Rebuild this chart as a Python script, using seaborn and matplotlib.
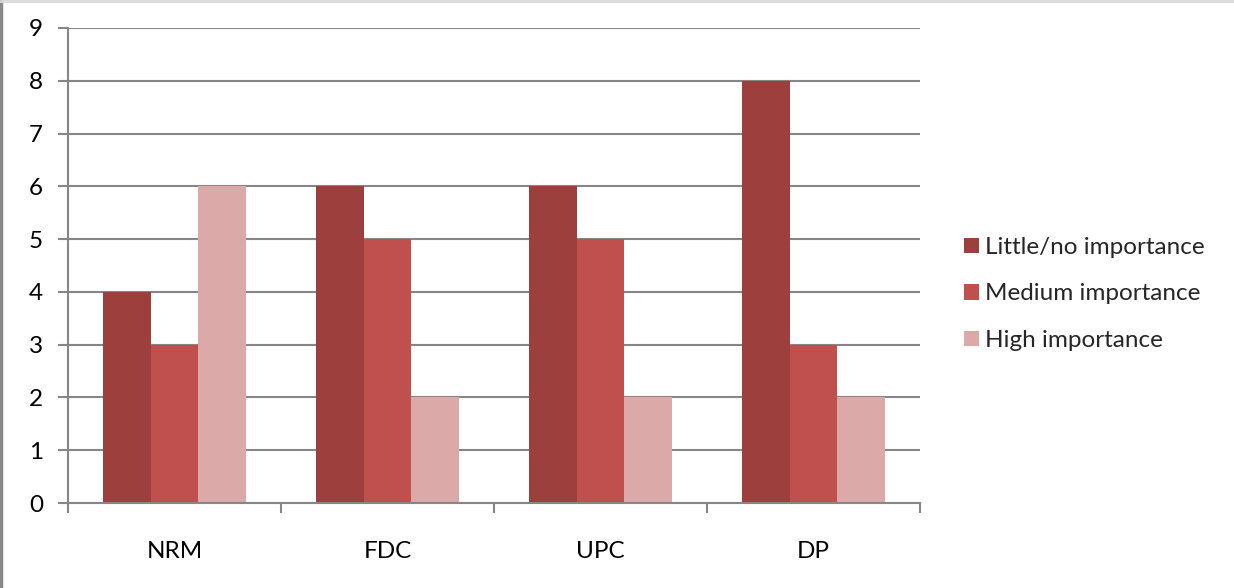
import matplotlib
matplotlib.use("Agg")
import matplotlib.pyplot as plt
from matplotlib.patches import Patch
from matplotlib.lines import Line2D
import seaborn as sns
import pandas as pd
import numpy as np

categories = ["NRM", "FDC", "UPC", "DP"]
series = ["Little/no importance", "Medium importance", "High importance"]
little = [4, 6, 6, 8]
medium = [3, 5, 5, 3]
high = [6, 2, 2, 2]
colors = ["#9C3F3D", "#C0504D", "#DBA9A8"]

rows = []
for name, vals in zip(series, [little, medium, high]):
    for cat, v in zip(categories, vals):
        rows.append({"category": cat, "series": name, "value": v})
df = pd.DataFrame(rows)

sns.set_style("white")
plt.rcParams["font.family"] = ["Lato", "DejaVu Sans"]

fig = plt.figure(figsize=(12.34, 5.88), dpi=100)
ax = fig.add_axes([68 / 1234, 1 - 503 / 588, (920 - 68) / 1234, (503 - 28) / 588])

sns.barplot(
    data=df,
    x="category",
    y="value",
    hue="series",
    palette=colors,
    width=0.667,
    gap=0,
    saturation=1,
    linewidth=0,
    legend=False,
    ax=ax
)

ax.set_xlim(-0.5, 3.5)
ax.set_ylim(0, 9)
ax.set_yticks(range(0, 10))
ax.yaxis.grid(True, color="#868686", linewidth=1.5)
ax.set_axisbelow(True)

for side in ["top", "right"]:
    ax.spines[side].set_visible(False)
for side in ["left", "bottom"]:
    ax.spines[side].set_color("#868686")
    ax.spines[side].set_linewidth(1.5)

ax.set_xlabel("")
ax.set_ylabel("")
ax.set_xticks(np.arange(-0.5, 4.0, 1.0), minor=True)
ax.tick_params(axis="x", which="major", bottom=True, length=0, pad=27,
               labelsize=17.5, colors="black")
ax.tick_params(axis="x", which="minor", bottom=True, length=7, width=1.5,
               color="#868686", direction="out")
ax.tick_params(axis="y", left=True, length=7, width=1.5, color="#868686",
               labelcolor="black", direction="out", pad=11, labelsize=17.5)

handles = [Patch(facecolor=c, edgecolor="none") for c in colors]
fig.legend(
    handles,
    series,
    loc="center left",
    bbox_to_anchor=(952 / 1234, 1 - 294 / 588),
    frameon=False,
    fontsize=17.5,
    handlelength=0.6,
    handleheight=0.6,
    handletextpad=0.25,
    labelspacing=1.05,
    borderpad=0
)

# frame of the picture
fig.add_artist(Line2D([0.001, 0.001], [0, 1], transform=fig.transFigure,
                      color="#8a8a8a", linewidth=2.5))
fig.add_artist(Line2D([0, 1], [0.999, 0.999], transform=fig.transFigure,
                      color="#d9d9d9", linewidth=2))

fig.savefig("out.png", dpi=100)
